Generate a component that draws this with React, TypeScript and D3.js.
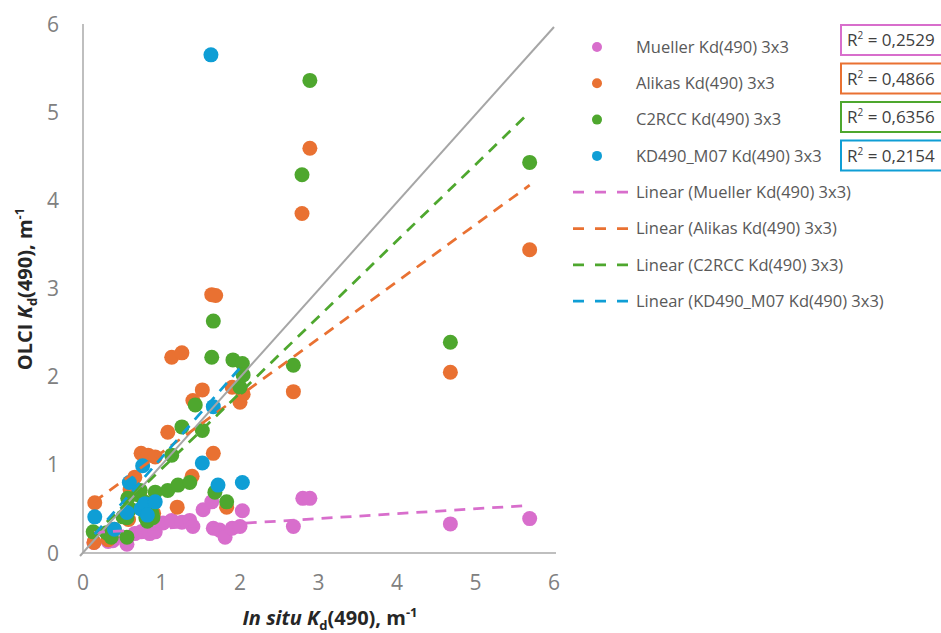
import React from "react";
import * as d3 from "d3";

// series, in Excel drawing order (first one is at the bottom)
const seriesNames = [
  "Mueller Kd(490) 3x3",
  "Alikas Kd(490) 3x3",
  "C2RCC Kd(490) 3x3",
  "KD490_M07 Kd(490) 3x3",
];
const seriesColors = ["#D86ECC", "#E97132", "#4EA72E", "#0F9ED5"];
const rSquared = ["0,2529", "0,4866", "0,6356", "0,2154"];

// linear trend lines
const trendSlope = [0.0558, 0.647, 0.863, 1.02];
const trendIntercept = [0.223, 0.49, 0.09, 0.06];

// [in situ Kd, OLCI Kd]
const muellerPoints = [
  [0.14, 0.12], [0.32, 0.13], [0.38, 0.14], [0.56, 0.1], [0.55, 0.17],
  [0.66, 0.22], [0.74, 0.24], [0.79, 0.26], [0.85, 0.22], [0.92, 0.24],
  [1.02, 0.34], [1.13, 0.37], [1.26, 0.35], [1.36, 0.37], [1.4, 0.3],
  [1.53, 0.49], [1.64, 0.58], [1.66, 0.28], [1.74, 0.26], [1.81, 0.18],
  [1.9, 0.28], [2.0, 0.3], [2.03, 0.48], [2.68, 0.3], [2.8, 0.62],
  [2.89, 0.62], [4.68, 0.33], [5.69, 0.39],
];
const alikasPoints = [
  [0.15, 0.57], [0.14, 0.12], [0.32, 0.15], [0.4, 0.27], [0.58, 0.38],
  [0.6, 0.72], [0.66, 0.86], [0.72, 0.66], [0.74, 1.13], [0.83, 1.11],
  [0.9, 0.45], [0.92, 1.09], [1.08, 1.37], [1.13, 2.22], [1.2, 0.52],
  [1.26, 2.27], [1.39, 0.87], [1.4, 1.73], [1.52, 1.85], [1.64, 2.93],
  [1.66, 1.13], [1.69, 2.92], [1.83, 0.52], [1.9, 1.88], [2.0, 1.71],
  [2.04, 1.8], [2.68, 1.83], [2.79, 3.85], [2.89, 4.59], [4.68, 2.05],
  [5.69, 3.44],
];
const c2rccPoints = [
  [0.13, 0.24], [0.3, 0.23], [0.36, 0.18], [0.56, 0.18], [0.51, 0.41],
  [0.56, 0.4], [0.6, 0.5], [0.57, 0.62], [0.7, 0.66], [0.73, 0.71],
  [0.78, 0.58], [0.8, 0.4], [0.82, 0.36], [0.88, 0.45], [0.89, 0.4],
  [0.92, 0.69], [1.08, 0.71], [1.13, 1.11], [1.21, 0.77], [1.26, 1.43],
  [1.36, 0.8], [1.43, 1.68], [1.52, 1.39], [1.64, 2.22], [1.66, 2.63],
  [1.68, 0.69], [1.83, 0.58], [1.91, 2.19], [2.0, 1.88], [2.03, 2.15],
  [2.04, 2.02], [2.68, 2.13], [2.79, 4.29], [2.89, 5.36], [4.68, 2.39],
  [5.69, 4.43],
];
const kd490Points = [
  [0.15, 0.41], [0.4, 0.27], [0.56, 0.46], [0.59, 0.8], [0.74, 0.5],
  [0.76, 0.99], [0.79, 0.56], [0.82, 0.43], [0.92, 0.58], [1.52, 1.02],
  [1.63, 5.65], [1.66, 1.66], [1.72, 0.77], [2.03, 0.8],
];
const allPoints = [muellerPoints, alikasPoints, c2rccPoints, kd490Points];

const xTicks = [0, 1, 2, 3, 4, 5, 6];
const yTicks = [0, 1, 2, 3, 4, 5, 6];

const W = 941;
const H = 633;
const margin = { left: 83, right: 387, top: 24, bottom: 80 };
const font = "'Open Sans', 'Liberation Sans', sans-serif";

export default function App() {
  const x = d3.scaleLinear().domain([0, 6]).range([margin.left, W - margin.right]);
  const y = d3.scaleLinear().domain([0, 6]).range([H - margin.bottom, margin.top]);

  const trendLines = allPoints.map((pts, i) => {
    const [x0, x1] = d3.extent(pts, (d) => d[0]) as [number, number];
    const f = (v: number) => trendIntercept[i] + trendSlope[i] * v;
    return { x0, x1, y0: f(x0), y1: f(x1) };
  });

  const legendX = 597;
  const legendY0 = 47;
  const legendStep = 36.3;

  return (
    <svg
      width={W}
      height={H}
      style={{ position: "absolute", left: 0, top: 0, background: "#fff" }}
      fontFamily={font}
    >
      {/* axes */}
      <line x1={x(0)} x2={x(0)} y1={y(6)} y2={y(0)} stroke="#BFBFBF" strokeWidth={2} />
      <line x1={x(0)} x2={x(6) + 2} y1={y(0)} y2={y(0)} stroke="#BFBFBF" strokeWidth={2} />

      {yTicks.map((t) => (
        <text key={"y" + t} x={x(0) - 24} y={y(t)} dy="0.36em" textAnchor="end" fontSize={21} fill="#808080">
          {t}
        </text>
      ))}
      {xTicks.map((t) => (
        <text key={"x" + t} x={x(t)} y={y(0) + 37} textAnchor="middle" fontSize={21} fill="#808080">
          {t}
        </text>
      ))}

      {/* axis titles */}
      <text x={330} y={625} textAnchor="middle" fontSize={20} fontWeight="bold" fill="#262626">
        <tspan fontStyle="italic">In situ K</tspan>
        <tspan fontSize={13} dy={5}>d</tspan>
        <tspan dy={-5}>(490), m</tspan>
        <tspan fontSize={13} dy={-8}>-1</tspan>
      </text>
      <text
        transform={`translate(32, 289) rotate(-90)`}
        textAnchor="middle"
        fontSize={20}
        fontWeight="bold"
        fill="#262626"
      >
        <tspan>OLCI </tspan>
        <tspan fontStyle="italic">K</tspan>
        <tspan fontSize={13} dy={5}>d</tspan>
        <tspan dy={-5}>(490), m</tspan>
        <tspan fontSize={13} dy={-8}>-1</tspan>
      </text>

      {/* markers */}
      {allPoints.map((pts, i) => (
        <g key={"s" + i} fill={seriesColors[i]}>
          {pts.map((d, j) => (
            <circle key={j} cx={x(d[0])} cy={y(d[1])} r={7.5} />
          ))}
        </g>
      ))}

      {/* 1:1 line */}
      <line x1={x(0) - 3} y1={y(0) + 3} x2={x(6)} y2={y(6) + 3} stroke="#A6A6A6" strokeWidth={2} />

      {/* trend lines */}
      {trendLines.map((t, i) => (
        <line
          key={"t" + i}
          x1={x(t.x0)}
          y1={y(t.y0)}
          x2={x(t.x1)}
          y2={y(t.y1)}
          stroke={seriesColors[i]}
          strokeWidth={2.75}
          strokeDasharray="11 8"
        />
      ))}

      {/* legend */}
      {seriesNames.map((n, i) => (
        <g key={"lm" + i}>
          <circle cx={legendX} cy={legendY0 + i * legendStep} r={5} fill={seriesColors[i]} />
          <text x={636} y={legendY0 + i * legendStep} dy="0.35em" fontSize={16.5} fill="#595959">
            {n}
          </text>
        </g>
      ))}
      {seriesNames.map((n, i) => {
        const ly = legendY0 + (i + 4) * legendStep;
        return (
          <g key={"ll" + i}>
            <line x1={573} x2={629} y1={ly} y2={ly} stroke={seriesColors[i]} strokeWidth={2.75} strokeDasharray="11 11" />
            <text x={636} y={ly} dy="0.35em" fontSize={16.5} fill="#595959">
              {`Linear (${n})`}
            </text>
          </g>
        );
      })}

      {/* R² boxes */}
      {rSquared.map((r, i) => {
        const cy = 40 + i * 38.5;
        return (
          <g key={"r" + i}>
            <rect x={841} y={cy - 15} width={130} height={30} fill="#fff" stroke={seriesColors[i]} strokeWidth={2} />
            <text x={847} y={cy} dy="0.38em" fontSize={17} fill="#404040">
              R<tspan fontSize={10} dy={-7}>2</tspan>
              <tspan dy={7}>{` = ${r}`}</tspan>
            </text>
          </g>
        );
      })}
    </svg>
  );
}
